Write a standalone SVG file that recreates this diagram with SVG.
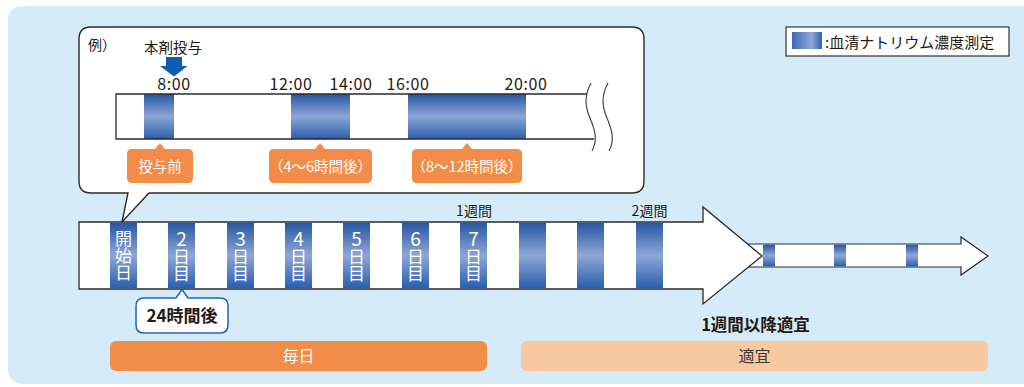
<svg xmlns="http://www.w3.org/2000/svg" width="1024" height="387" viewBox="0 0 1024 387">
<defs>
<linearGradient id="gv" x1="0" y1="0" x2="0" y2="1">
<stop offset="0" stop-color="#2656a2"/>
<stop offset="0.5" stop-color="#8ea6d6"/>
<stop offset="1" stop-color="#2a5eab"/>
</linearGradient>
<linearGradient id="gh" x1="0" y1="0" x2="1" y2="0">
<stop offset="0" stop-color="#3e68b6"/>
<stop offset="0.65" stop-color="#91a8d8"/>
<stop offset="1" stop-color="#2d5fab"/>
</linearGradient>
<style>
text{font-family:"Noto Sans CJK JP","Noto Sans",sans-serif;}
.dk{fill:#231815;}
.wt{fill:#ffffff;}
.band{fill:url(#gv);}
.ln{fill:none;stroke:#2a2a2a;stroke-width:1.3;}
.org{fill:#f18d48;}
.vt{font-size:17px;fill:#ffffff;writing-mode:vertical-rl;text-orientation:upright;}
.dg{font-size:19px;}
.tm{font-size:16px;fill:#231815;text-anchor:middle;letter-spacing:0.6px;}
.lb{font-size:14.5px;fill:#ffffff;text-anchor:middle;}
</style>
</defs>
<rect x="8" y="6" width="1040" height="378" rx="14" fill="#d5ecf8"/>

<g id="legend">
<rect x="786" y="27" width="223" height="29" fill="#ffffff" stroke="#333333" stroke-width="1.2"/>
<rect x="792" y="32" width="30" height="17" fill="url(#gh)"/>
<text x="825" y="48" font-size="15" class="dk">:血清ナトリウム濃度測定</text>
</g>

<g id="callout">
<path d="M91,27 H632 Q644,27 644,39 V181 Q644,193 632,193 H149 L122,222 L128,193 H91 Q79,193 79,181 V39 Q79,27 91,27 Z" fill="#ffffff" stroke="#2a2a2a" stroke-width="1.4"/>
<text x="88" y="50" font-size="14" class="dk">例）</text>
<text x="173" y="53" font-size="14.5" text-anchor="middle" class="dk">本剤投与</text>
<path d="M166,57 H182 V66 H187.5 L174,76.5 L160,66 H166 Z" fill="#0b5cb2"/>
<text x="174" y="90" class="tm">8:00</text>
<text x="291" y="90" class="tm">12:00</text>
<text x="351" y="90" class="tm">14:00</text>
<text x="408" y="90" class="tm">16:00</text>
<text x="526" y="90" class="tm">20:00</text>
<path d="M116,94 H587 C590,108 592,112 595,125 C596,131 595,135 594,139 H116 Z" fill="#ffffff"/>
<rect x="144" y="94" width="30" height="45" class="band"/>
<rect x="291" y="94" width="59" height="45" class="band"/>
<rect x="408" y="94" width="118" height="45" class="band"/>
<path d="M587,94 H116 V139 H594" class="ln"/>
<path d="M591,83 C584,96 585,106 590,118 C595,130 598,140 592,151" fill="none" stroke="#444" stroke-width="1.2"/>
<path d="M608,83 C601,96 602,106 607,118 C612,130 615,140 609,151" fill="none" stroke="#444" stroke-width="1.2"/>
</g>

<g id="label-before">
<path d="M132,149 H155 L160,143 L165,149 H188 Q193,149 193,154 V178 Q193,183 188,183 H132 Q127,183 127,178 V154 Q127,149 132,149 Z" class="org"/>
<text x="160" y="172" class="lb">投与前</text>
</g>
<g id="label-4-6h">
<path d="M274,149 H315 L320,143 L325,149 H367 Q372,149 372,154 V178 Q372,183 367,183 H274 Q269,183 269,178 V154 Q269,149 274,149 Z" class="org"/>
<text x="320.5" y="172" class="lb">（4～6時間後）</text>
</g>
<g id="label-8-12h">
<path d="M417,149 H462 L467,143 L472,149 H517 Q522,149 522,154 V178 Q522,183 517,183 H417 Q412,183 412,178 V154 Q412,149 417,149 Z" class="org"/>
<text x="467" y="172" class="lb">（8～12時間後）</text>
</g>

<g id="connectors">
<g id="small-arrow">
<path d="M740,244 H961 V237 L988,256 L961,275 V267 H740 Z" fill="#ffffff" stroke="#2a2a2a" stroke-width="1.2"/>
<rect x="763" y="244.6" width="12" height="21.8" class="band"/>
<rect x="834" y="244.6" width="12" height="21.8" class="band"/>
<rect x="906" y="244.6" width="12" height="21.8" class="band"/>
</g>
<g id="main-arrow">
<path d="M79,222 H703 V207 L762,256 L703,304 V289 H79 Z" fill="#ffffff" stroke="#2a2a2a" stroke-width="1.3"/>
<rect x="110" y="222.6" width="27" height="65.8" class="band"/>
<rect x="168" y="222.6" width="27" height="65.8" class="band"/>
<rect x="227" y="222.6" width="27" height="65.8" class="band"/>
<rect x="285" y="222.6" width="27" height="65.8" class="band"/>
<rect x="343" y="222.6" width="27" height="65.8" class="band"/>
<rect x="402" y="222.6" width="27" height="65.8" class="band"/>
<rect x="460" y="222.6" width="27" height="65.8" class="band"/>
<rect x="519" y="222.6" width="27" height="65.8" class="band"/>
<rect x="577" y="222.6" width="27" height="65.8" class="band"/>
<rect x="636" y="222.6" width="27" height="65.8" class="band"/>
</g>
</g>

<g id="day1"><text x="123.5" y="230" class="vt">開始日</text></g>
<g id="day2"><text x="181.5" y="229" class="vt"><tspan class="dg">2</tspan>日目</text></g>
<g id="day3"><text x="240.5" y="229" class="vt"><tspan class="dg">3</tspan>日目</text></g>
<g id="day4"><text x="298.5" y="229" class="vt"><tspan class="dg">4</tspan>日目</text></g>
<g id="day5"><text x="356.5" y="229" class="vt"><tspan class="dg">5</tspan>日目</text></g>
<g id="day6"><text x="415.5" y="229" class="vt"><tspan class="dg">6</tspan>日目</text></g>
<g id="day7"><text x="473.5" y="229" class="vt"><tspan class="dg">7</tspan>日目</text></g>

<g id="week-labels">
<text x="474" y="216" font-size="14" text-anchor="middle" class="dk">1週間</text>
<text x="649.5" y="216" font-size="14" text-anchor="middle" class="dk">2週間</text>
</g>

<g id="label-24h">
<path d="M144,298 H176 L182,289.5 L188,298 H220 Q228,298 228,306 V325 Q228,333 220,333 H144 Q136,333 136,325 V306 Q136,298 144,298 Z" fill="#ffffff" stroke="#1e64b4" stroke-width="1.5"/>
<text x="182" y="322" font-size="17" font-weight="bold" text-anchor="middle" class="dk">24時間後</text>
</g>

<g id="after-week">
<text x="755.5" y="331" font-size="16.5" font-weight="bold" text-anchor="middle" class="dk">1週間以降適宜</text>
</g>

<g id="bar-daily">
<rect x="110" y="341" width="377" height="30" rx="6" class="org"/>
<text x="298.5" y="362" font-size="16" text-anchor="middle" class="wt">毎日</text>
</g>
<g id="bar-asneeded">
<rect x="521" y="341" width="467" height="30" rx="6" fill="#f8c8a0"/>
<text x="754.5" y="362" font-size="16" text-anchor="middle" fill="#3a3a3a">適宜</text>
</g>
</svg>
